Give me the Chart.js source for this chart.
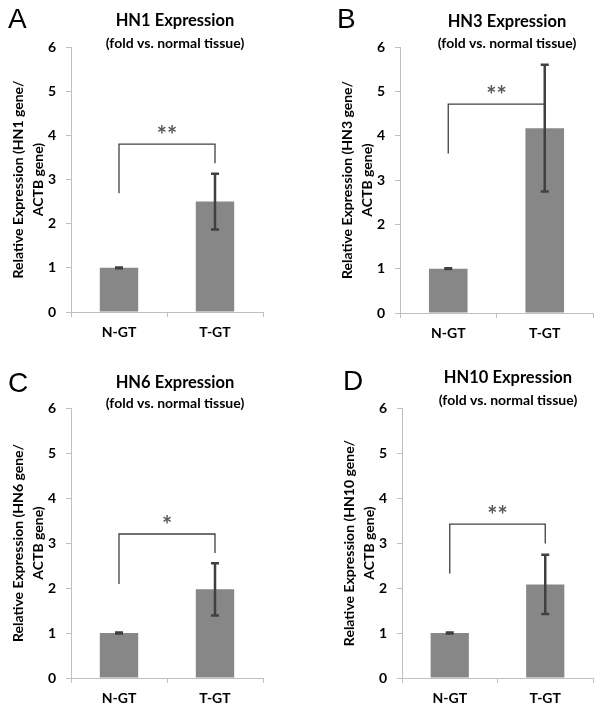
<!DOCTYPE html>
<html>
<head>
<meta charset="utf-8">
<script src="https://cdn.jsdelivr.net/npm/chart.js@4.4.0/dist/chart.umd.min.js"></script>
<style>
  html, body { margin: 0; padding: 0; background: #fff; }
  #wrap { position: relative; width: 600px; height: 713px; }
  #wrap canvas { position: absolute; }
</style>
</head>
<body>
<div id="wrap">
  <canvas id="panel0" width="300" height="340" style="left:0;top:0"></canvas>
  <canvas id="panel1" width="300" height="340" style="left:300px;top:0"></canvas>
  <canvas id="panel2" width="300" height="373" style="left:0;top:340px"></canvas>
  <canvas id="panel3" width="300" height="373" style="left:300px;top:340px"></canvas>
</div>
<script>
// data
const panelLetters = ["A", "B", "C", "D"];
const geneNames = ["HN1", "HN3", "HN6", "HN10"];
const categories = ["N-GT", "T-GT"];
const meanValues = [[1.0, 2.5], [1.0, 4.17], [1.0, 1.97], [1.0, 2.08]];
const errorValues = [[0.01, 0.63], [0.01, 1.43], [0.01, 0.58], [0.01, 0.66]];
const bracketLevels = [3.8, 4.71, 3.2, 3.42];
const bracketLeftEnds = [2.69, 3.6, 2.09, 2.32];
const bracketRightEnds = [3.37, 4.26, 2.78, 2.99];
const starLevels = [4.1, 5.0, 3.5, 3.72];
const significance = ["**", "**", "*", "**"];
const yMin = 0;
const yMax = 6;
const yStep = 1;

// layout of each panel inside its canvas
const panelLayout = [
  { pad: { left: 0, right: 37, top: 47, bottom: 0 }, xHeight: 28, letter: [8, 28], titleX: 175, titleY: 21, subY: 43 },
  { pad: { left: 29, right: 7, top: 47, bottom: 0 }, xHeight: 27, letter: [37, 28], titleX: 207, titleY: 22, subY: 43 },
  { pad: { left: 0, right: 37, top: 68, bottom: 0 }, xHeight: 35, letter: [8, 52], titleX: 175, titleY: 43, subY: 63 },
  { pad: { left: 31, right: 7, top: 68, bottom: 0 }, xHeight: 35, letter: [43, 50], titleX: 208, titleY: 38, subY: 60 },
];

const FONT = "Lato, 'Open Sans', sans-serif";
Chart.defaults.font.family = FONT;
Chart.defaults.color = "#000";

const barColor = "#878787";
const axisColor = "#bfbfbf";
const darkLine = "#404040";

function makeDecor(i) {
  return {
    id: "decor" + i,
    afterDatasetsDraw(chart) {
      const ctx = chart.ctx;
      const yScale = chart.scales.y;
      const bars = chart.getDatasetMeta(0).data;

      // error bars
      ctx.save();
      ctx.strokeStyle = darkLine;
      ctx.lineWidth = 2.5;
      bars.forEach((bar, k) => {
        const v = meanValues[i][k];
        const e = errorValues[i][k];
        const yTop = yScale.getPixelForValue(v + e);
        const yBot = yScale.getPixelForValue(v - e);
        ctx.beginPath();
        ctx.moveTo(bar.x, yTop);
        ctx.lineTo(bar.x, yBot);
        ctx.moveTo(bar.x - 4, yTop);
        ctx.lineTo(bar.x + 4, yTop);
        ctx.moveTo(bar.x - 4, yBot);
        ctx.lineTo(bar.x + 4, yBot);
        ctx.stroke();
      });
      ctx.restore();

      // significance bracket
      const x0 = bars[0].x;
      const x1 = bars[1].x;
      const yb = yScale.getPixelForValue(bracketLevels[i]);
      ctx.save();
      ctx.strokeStyle = darkLine;
      ctx.lineWidth = 1.3;
      ctx.beginPath();
      ctx.moveTo(x0, yScale.getPixelForValue(bracketLeftEnds[i]));
      ctx.lineTo(x0, yb);
      ctx.lineTo(x1, yb);
      ctx.lineTo(x1, yScale.getPixelForValue(bracketRightEnds[i]));
      ctx.stroke();

      ctx.fillStyle = "#595959";
      ctx.font = "bold 24px " + FONT;
      ctx.textAlign = "center";
      ctx.textBaseline = "alphabetic";
      ctx.fillText(significance[i], (x0 + x1) / 2, yScale.getPixelForValue(starLevels[i]) + 13);
      ctx.restore();
    },
    afterDraw(chart) {
      const ctx = chart.ctx;
      const lay = panelLayout[i];
      ctx.save();
      ctx.fillStyle = "#000";
      ctx.textAlign = "left";
      ctx.textBaseline = "alphabetic";
      ctx.font = "28px 'Liberation Sans', Arial, sans-serif";
      ctx.fillText(panelLetters[i], lay.letter[0], lay.letter[1]);

      ctx.textAlign = "center";
      ctx.textBaseline = "middle";
      ctx.font = "bold 16.5px " + FONT;
      ctx.fillText(geneNames[i] + " Expression", lay.titleX, lay.titleY);
      ctx.font = "bold 14px " + FONT;
      ctx.fillText("(fold vs. normal tissue)", lay.titleX, lay.subY);
      ctx.restore();
    },
  };
}

panelLetters.forEach((letter, i) => {
  const ctx = document.getElementById("panel" + i).getContext("2d");
  new Chart(ctx, {
    type: "bar",
    data: {
      labels: categories,
      datasets: [
        {
          data: meanValues[i],
          backgroundColor: barColor,
          borderWidth: 0,
          barPercentage: 0.4,
          categoryPercentage: 1,
        },
      ],
    },
    options: {
      responsive: false,
      animation: false,
      layout: { padding: panelLayout[i].pad },
      plugins: {
        legend: { display: false },
        tooltip: { enabled: false },
      },
      scales: {
        x: {
          grid: {
            offset: true,
            drawOnChartArea: false,
            tickLength: 5,
            color: axisColor,
          },
          border: { color: axisColor },
          ticks: {
            padding: 7,
            font: { size: 14, weight: "bold" },
            color: "#000",
          },
          afterFit: (scale) => {
            scale.height = panelLayout[i].xHeight;
          },
        },
        y: {
          min: yMin,
          max: yMax,
          grid: {
            drawOnChartArea: false,
            tickLength: 5,
            color: axisColor,
          },
          border: { color: axisColor },
          ticks: {
            stepSize: yStep,
            padding: 10,
            font: { size: 14, weight: "bold" },
            color: "#000",
          },
          title: {
            display: true,
            text: ["Relative Expression (" + geneNames[i] + " gene/", "ACTB gene)"],
            font: { size: 14, weight: "bold", lineHeight: "20px" },
            padding: { top: 8, bottom: 0 },
            color: "#000",
          },
          afterFit: (scale) => {
            scale.width = 71;
          },
        },
      },
    },
    plugins: [makeDecor(i)],
  });
});
</script>
</body>
</html>
